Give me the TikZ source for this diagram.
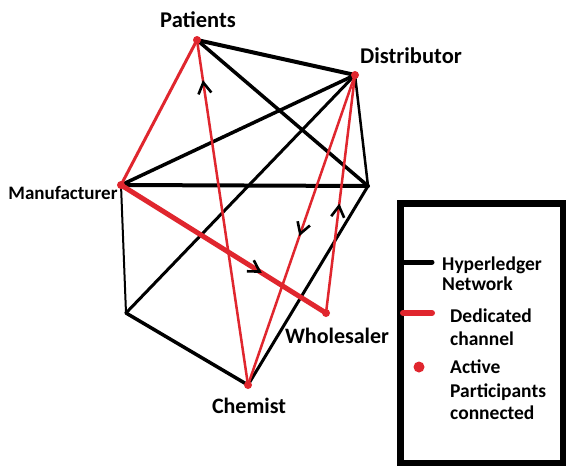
\documentclass[tikz,border=0pt]{standalone}
\usepackage{fontspec}
\setmainfont{Carlito}
\usetikzlibrary{arrows.meta,decorations.markings}
\definecolor{chred}{RGB}{224,38,46}
\begin{document}
\begin{tikzpicture}[x=1pt,y=-1pt,
  net/.style={line width=#1, black, line cap=round},
  chan/.style={line width=#1, chred, line cap=round},
  dot/.style={circle, fill=chred, inner sep=0pt, minimum size=#1},
  lbl/.style={font=\fontsize{#1}{#1}\selectfont\bfseries, inner sep=0pt, anchor=base},
  leg/.style={font=\fontsize{19.5}{23}\selectfont\bfseries, inner sep=0pt, anchor=base west},
  chev/.style={postaction={decorate}, decoration={markings, mark=at position #1 with {\arrow[black]{Straight Barb[length=11pt,width=13pt,line width=2.6pt]}}}}
]
\useasboundingbox (0,0) rectangle (566,466);
\fill[white] (0,0) rectangle (566,466);

% points
\coordinate (P) at (197,40);
\coordinate (D) at (355,75);
\coordinate (M) at (121,185);
\coordinate (R) at (368,186);
\coordinate (W) at (326,313);
\coordinate (C) at (248,385);
\coordinate (L) at (126,313);

% hyperledger network
\draw[net=4pt] (P) -- (D);
\draw[net=3.5pt] (P) -- (R);
\draw[net=3.5pt] (D) -- (M);
\draw[net=3pt] (D) -- (L);
\draw[net=4pt] (M) -- (R);
\draw[net=2.5pt] (D) -- (R);
\draw[net=2pt] (M) -- (L);
\draw[net=3.5pt] (L) -- (C);
\draw[net=3pt] (C) -- (R);

% dedicated channels
\draw[chan=3pt] (P) -- (M);
\draw[chan=2.5pt, chev=0.884] (C) -- (P);
\draw[chan=5pt, chev=0.687] (M) -- (W);
\draw[chan=2.5pt, chev=0.52] (D) -- (C);
\draw[chan=2.5pt, chev=0.46] (W) -- (D);

% participants
\node[dot=8pt] (p) at (P) {};
\node[dot=8pt] (d) at (D) {};
\node[dot=8pt] (m) at (M) {};
\node[dot=8pt] (w) at (W) {};
\node[dot=8pt] (c) at (C) {};

% labels
\node[lbl=22.5] (tp) at (198,27) {Patients};
\node[lbl=22.5] (td) at (411,63) {Distributor};
\node[lbl=19] (tm) at (63,199) {Manufacturer};
\node[lbl=22] (tw) at (337,343) {Wholesaler};
\node[lbl=22] (tc) at (249,413) {Chemist};

% legend
\draw[line width=7pt] (400,203) rectangle (563,463);
\coordinate (k1a) at (403,262);
\coordinate (k1b) at (432,262);
\draw[net=5pt] (k1a) -- (k1b);
\coordinate (k2a) at (403,313);
\coordinate (k2b) at (432,313);
\draw[chan=6pt] (k2a) -- (k2b);
\node[dot=11pt] (k3) at (419,367) {};
\node[leg] (l1) at (442,270) {Hyperledger};
\node[leg] (l2) at (442,290) {Network};
\node[leg] (l3) at (450,322) {Dedicated};
\node[leg] (l4) at (450,345) {channel};
\node[leg] (l5) at (450,373) {Active};
\node[leg] (l6) at (450,397) {Participants};
\node[leg] (l7) at (450,419) {connected};
\end{tikzpicture}
\end{document}
